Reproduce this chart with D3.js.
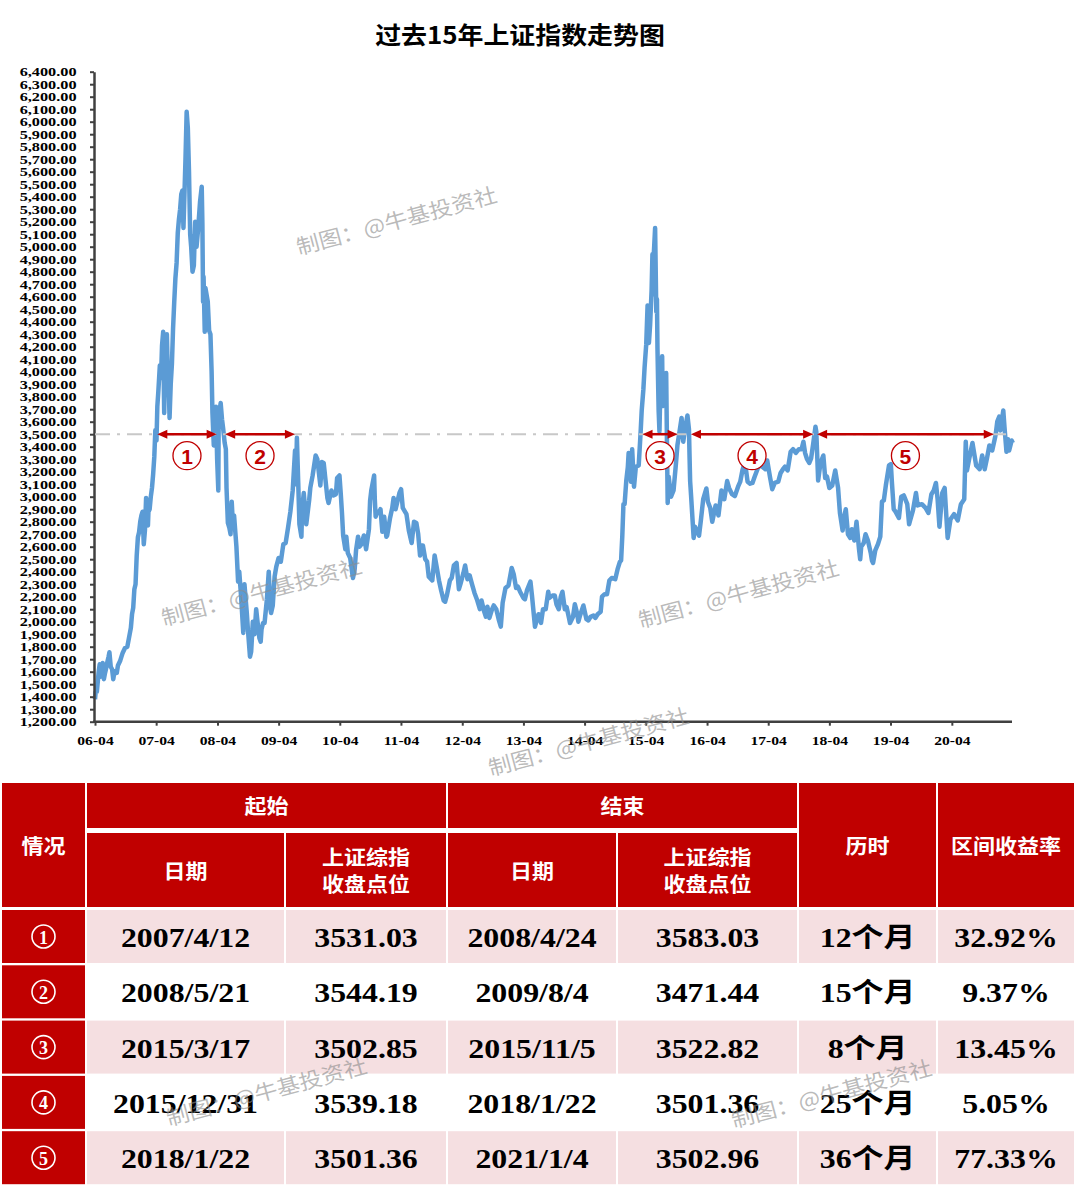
<!DOCTYPE html>
<html>
<head>
<meta charset="utf-8">
<script src="https://cdn.jsdelivr.net/npm/d3@7"></script>
<style>
  body { margin: 0; background: #fff; }
  svg { display: block; }
</style>
</head>
<body>
<div id="chart"></div>
<script>
// 上证综指 close (roughly every 1-2 weeks)
const close2006 = [["04-17",1380],["04-21",1440],["04-28",1440],["05-09",1600],["05-15",1660],["05-19",1560],["05-26",1600],["06-02",1670],["06-09",1540],["06-16",1590],["06-23",1630],["06-30",1680],["07-07",1720],["07-12",1755],["07-20",1640],["07-28",1620],["08-04",1540],["08-11",1600],["08-18",1605],["08-25",1590],["09-01",1650],["09-15",1690],["09-29",1750],["10-13",1790],["10-27",1800],["11-10",1900],["11-17",1950],["11-24",2060],["12-01",2110],["12-08",2260],["12-15",2300],["12-22",2530],["12-29",2675]];
const close2007 = [["01-05",2715],["01-12",2800],["01-19",2850],["01-26",2880],["02-02",2620],["02-09",2730],["02-16",2990],["02-27",2770],["03-02",2880],["03-09",2900],["03-16",3000],["03-23",3070],["03-30",3180],["04-06",3320],["04-12",3531],["04-19",3450],["04-24",3720],["04-30",3840],["05-09",4050],["05-16",3950],["05-22",4210],["05-29",4320],["06-01",3980],["06-04",3670],["06-08",4000],["06-15",4150],["06-20",4300],["06-26",3950],["07-02",3830],["07-06",3630],["07-13",3900],["07-20",4060],["07-27",4350],["08-03",4560],["08-10",4750],["08-17",4870],["08-24",5110],["08-31",5220],["09-07",5300],["09-14",5420],["09-21",5450],["09-27",5150],["10-09",5700],["10-16",6080],["10-23",5950],["10-30",5600],["11-06",5100],["11-12",5000],["11-20",4800],["11-28",4850],["12-06",5200],["12-14",5000],["12-24",5150]];
const close2008 = [["01-04",5360],["01-14",5480],["01-18",5180],["01-22",4560],["01-25",4760],["02-01",4320],["02-05",4670],["02-19",4560],["02-27",4330],["03-06",4300],["03-13",4000],["03-18",3670],["03-26",3410],["04-01",3470],["04-08",3720],["04-15",3300],["04-22",3050],["04-24",3583],["04-30",3690],["05-06",3750],["05-14",3620],["05-21",3544],["05-30",3430],["06-06",3380],["06-10",3070],["06-18",2790],["06-27",2750],["07-04",2700],["07-11",2960],["07-18",2780],["07-25",2850],["08-08",2600],["08-18",2320],["08-25",2400],["09-05",2200],["09-18",1910],["09-25",2300],["10-09",2070],["10-16",1930],["10-28",1720],["11-04",1760],["11-14",2000],["11-24",1900],["12-04",2100],["12-12",2000],["12-23",1870],["12-31",1840]];
const close2009 = [["01-05",1940],["01-14",1990],["01-23",1990],["02-06",2180],["02-17",2400],["02-27",2100],["03-03",2070],["03-13",2130],["03-24",2360],["04-03",2440],["04-17",2510],["04-30",2480],["05-15",2620],["05-29",2630],["06-12",2750],["06-26",2880],["07-10",3050],["07-24",3370],["07-29",3100],["08-04",3471],["08-12",3110],["08-19",2780],["08-31",2680],["09-04",2900],["09-14",3030],["09-29",2780],["10-16",2970],["10-23",3070],["11-06",3170],["11-24",3330],["12-04",3300],["12-22",3090],["12-31",3277]];
const close2010 = [["01-11",3270],["01-22",3130],["02-02",2990],["02-09",2950],["02-26",3050],["03-10",3010],["03-25",3020],["04-01",3150],["04-15",3170],["04-23",3020],["04-30",2870],["05-07",2690],["05-20",2580],["05-26",2680],["06-04",2550],["06-18",2510],["07-02",2370],["07-05",2350],["07-15",2420],["07-23",2570],["08-04",2680],["08-13",2600],["08-25",2620],["09-08",2690],["09-21",2580],["10-08",2740],["10-15",2970],["10-22",3050],["11-08",3170],["11-12",2980],["11-17",2840],["11-26",2880],["12-06",2870],["12-16",2900],["12-27",2720]];
const close2011 = [["01-07",2840],["01-20",2680],["01-25",2690],["02-11",2830],["02-24",2910],["03-04",2990],["03-16",2900],["03-25",2950],["04-08",3030],["04-18",3060],["04-28",2910],["05-11",2880],["05-20",2860],["06-03",2730],["06-20",2630],["07-04",2800],["07-18",2790],["07-29",2700],["08-09",2530],["08-15",2610],["08-26",2610],["09-09",2500],["09-20",2480],["09-30",2360],["10-21",2330],["11-04",2530],["11-16",2440],["11-30",2330],["12-13",2250],["12-28",2170]];
const close2012 = [["01-06",2160],["01-16",2210],["02-03",2330],["02-14",2350],["02-27",2450],["03-14",2470],["03-28",2260],["04-06",2300],["04-24",2390],["05-04",2450],["05-18",2340],["05-31",2370],["06-14",2300],["06-29",2230],["07-13",2180],["07-31",2100],["08-10",2170],["08-24",2090],["09-05",2040],["09-14",2120],["09-26",2030],["10-12",2100],["10-22",2130],["11-06",2100],["11-22",2010],["12-03",1960],["12-14",2150],["12-31",2270]];
const close2013 = [["01-18",2290],["02-06",2430],["02-18",2380],["03-04",2270],["03-15",2280],["03-28",2240],["04-17",2190],["04-26",2180],["05-08",2250],["05-29",2320],["06-07",2210],["06-25",1960],["07-05",2010],["07-16",2060],["07-31",1990],["08-12",2100],["08-28",2100],["09-12",2240],["09-18",2190],["10-08",2210],["10-21",2210],["10-31",2140],["11-14",2100],["11-26",2200],["12-06",2240],["12-20",2100],["12-31",2116]];
const close2014 = [["01-14",2030],["01-20",1990],["02-07",2040],["02-18",2140],["03-03",2070],["03-11",2000],["03-21",2050],["04-10",2130],["04-28",2020],["05-09",2010],["05-23",2040],["06-09",2050],["06-20",2030],["07-04",2060],["07-22",2080],["07-30",2200],["08-15",2220],["08-29",2220],["09-12",2330],["09-26",2350],["10-17",2340],["10-31",2420],["11-14",2480],["11-21",2490],["11-28",2680],["12-05",2940],["12-12",2940],["12-22",3130],["12-31",3235]];
const close2015 = [["01-05",3350],["01-19",3120],["01-26",3380],["02-06",3080],["02-17",3240],["03-06",3250],["03-17",3502],["03-24",3690],["04-03",3860],["04-10",4030],["04-20",4220],["04-28",4530],["05-06",4230],["05-13",4370],["05-22",4650],["05-27",4940],["05-28",4620],["06-03",4910],["06-12",5150],["06-19",4480],["06-23",4580],["06-26",4190],["07-03",3690],["07-08",3520],["07-14",3920],["07-24",4123],["07-27",3725],["08-07",3740],["08-17",3990],["08-21",3510],["08-26",2950],["09-01",3160],["09-15",3000],["09-30",3050],["10-14",3260],["10-23",3410],["11-05",3522],["11-17",3630],["11-27",3440],["12-07",3540],["12-22",3650],["12-31",3539]];
const close2016 = [["01-04",3296],["01-07",3125],["01-13",3000],["01-28",2670],["02-05",2760],["02-29",2688],["03-11",2810],["03-25",2980],["04-13",3066],["04-22",2960],["05-06",2910],["05-18",2800],["06-07",2930],["06-24",2850],["07-12",3050],["07-29",2980],["08-15",3125],["08-26",3070],["09-13",3020],["09-30",3005],["10-19",3080],["11-01",3120],["11-14",3210],["11-29",3280],["12-15",3120],["12-30",3104]];
const close2017 = [["01-13",3110],["01-26",3160],["02-23",3260],["03-13",3240],["03-31",3220],["04-11",3290],["04-28",3155],["05-11",3060],["05-26",3110],["06-16",3120],["06-30",3190],["07-14",3220],["07-26",3240],["08-11",3210],["08-29",3360],["09-12",3380],["09-29",3350],["10-17",3380],["11-02",3380],["11-13",3440],["11-23",3350],["12-05",3300],["12-18",3270],["12-29",3307]];
const close2018 = [["01-10",3420],["01-24",3560],["01-29",3520],["02-09",3130],["02-23",3270],["03-12",3330],["03-23",3150],["04-03",3160],["04-17",3070],["05-04",3090],["05-22",3210],["06-08",3070],["06-19",2870],["07-05",2730],["07-13",2830],["07-24",2900],["08-06",2700],["08-20",2670],["08-29",2740],["09-13",2650],["09-26",2800],["10-11",2580],["10-18",2500],["10-24",2600],["11-08",2630],["11-19",2700],["12-03",2650],["12-20",2550],["12-27",2490]];
const close2019 = [["01-03",2470],["01-16",2570],["02-01",2620],["02-15",2680],["02-25",2960],["03-08",2970],["03-20",3090],["04-08",3250],["04-19",3260],["04-25",3120],["05-06",2900],["05-17",2880],["06-06",2830],["06-20",3000],["07-05",3010],["07-26",2940],["08-06",2780],["08-12",2810],["08-29",2890],["09-16",3030],["09-26",2930],["10-21",2940],["11-12",2910],["11-29",2870],["12-17",3020],["12-31",3050]];
const close2020 = [["01-13",3110],["01-23",2980],["02-03",2760],["02-20",3030],["03-05",3070],["03-13",2890],["03-23",2670],["04-09",2820],["04-30",2860],["05-22",2810],["06-10",2940],["06-30",2980],["07-09",3440],["07-16",3210],["07-29",3300],["08-18",3430],["09-09",3250],["09-30",3220],["10-15",3330],["10-30",3220],["11-13",3310],["11-27",3410],["12-14",3370],["12-31",3473]];
const close2021 = [["01-04",3502],["01-13",3600],["01-25",3640],["02-01",3530],["02-18",3690],["02-25",3560],["03-09",3360],["03-18",3460],["03-25",3370],["04-09",3450],["04-16",3430]];

const yearBlocks = [[2006, close2006], [2007, close2007], [2008, close2008], [2009, close2009],
  [2010, close2010], [2011, close2011], [2012, close2012], [2013, close2013], [2014, close2014],
  [2015, close2015], [2016, close2016], [2017, close2017], [2018, close2018], [2019, close2019],
  [2020, close2020], [2021, close2021]];

// table
const periodNo = [1, 2, 3, 4, 5];
const startDates = ["2007/4/12", "2008/5/21", "2015/3/17", "2015/12/31", "2018/1/22"];
const startCloses = [3531.03, 3544.19, 3502.85, 3539.18, 3501.36];
const endDates = ["2008/4/24", "2009/8/4", "2015/11/5", "2018/1/22", "2021/1/4"];
const endCloses = [3583.03, 3471.44, 3522.82, 3501.36, 3502.96];
const monthsHeld = [12, 15, 8, 25, 36];
const periodReturns = [32.92, 9.37, 13.45, 5.05, 77.33];

const refLevel = 3500;
const yTicks = d3.range(1200, 6401, 100);
const xTickYears = d3.range(2006, 2021);

const W = 1080, H = 1190;
const RED = "#c00000", PINK = "#f5dfe1", BLUE = "#5b9bd5", AXIS = "#404040";
const SERIF = "'Liberation Serif','Noto Sans CJK SC',serif";
const CJK = "'Noto Sans CJK SC','Noto Sans',sans-serif";

const parseDay = d3.timeParse("%Y-%m-%d");
const parseSlash = d3.timeParse("%Y/%m/%d");

const series = yearBlocks.flatMap(([yr, rows]) =>
  rows.map(([md, v]) => ({ date: parseDay(yr + "-" + md), value: v })));

const svg = d3.select("#chart").append("svg")
  .attr("width", W).attr("height", H)
  .attr("viewBox", `0 0 ${W} ${H}`);

// stretched text helper (the reference is a bit wider than normal glyphs)
function stext(g, cx, cy, str, size, family, sx, fill) {
  return g.append("text")
    .attr("transform", `translate(${cx},${cy}) scale(${sx},1)`)
    .attr("text-anchor", "middle")
    .attr("dominant-baseline", "central")
    .attr("font-family", family)
    .attr("font-weight", "bold")
    .attr("font-size", size)
    .attr("fill", fill)
    .text(str);
}

// title
stext(svg, 520, 33, "过去15年上证指数走势图", 24, CJK, 1.08, "#000");

// scales
const x = d3.scaleTime()
  .domain([new Date(2006, 3, 17), new Date(2021, 3, 17)])
  .range([95, 1013]);
const y = d3.scaleLinear().domain([1200, 6400]).range([721.7, 71.7]);

// line
const line = d3.line().x(d => x(d.date)).y(d => y(d.value));
svg.append("path")
  .datum(series)
  .attr("d", line)
  .attr("fill", "none")
  .attr("stroke", BLUE)
  .attr("stroke-width", 4.5)
  .attr("stroke-linejoin", "round");

// axes
const yAxis = svg.append("g")
  .attr("transform", "translate(94,0)")
  .call(d3.axisLeft(y).tickValues(yTicks).tickFormat(d3.format(",.2f"))
    .tickSize(4).tickSizeOuter(0).tickPadding(10));
yAxis.select(".domain").attr("stroke", AXIS).attr("stroke-width", 2.5);
yAxis.selectAll(".tick line").attr("stroke", AXIS).attr("stroke-width", 2);
yAxis.selectAll(".tick text")
  .attr("font-family", SERIF).attr("font-weight", "bold").attr("font-size", 13)
  .attr("fill", "#000").attr("transform", "scale(1.25,1)");

const xAxis = svg.append("g")
  .attr("transform", `translate(0,${y(1200)})`)
  .call(d3.axisBottom(x).tickValues(xTickYears.map(yr => new Date(yr, 3, 17)))
    .tickFormat(d3.timeFormat("%y-%m")).tickSize(4).tickSizeOuter(0).tickPadding(10));
xAxis.select(".domain").attr("stroke", AXIS).attr("stroke-width", 2.5)
  .attr("d", `M93,0H1012`);
xAxis.selectAll(".tick line").attr("stroke", AXIS).attr("stroke-width", 2);
xAxis.selectAll(".tick text")
  .attr("font-family", SERIF).attr("font-weight", "bold").attr("font-size", 13)
  .attr("fill", "#000").attr("transform", "scale(1.2,1)");

// 3500 reference line
svg.append("line")
  .attr("x1", x.range()[0]).attr("x2", x.range()[1])
  .attr("y1", y(refLevel)).attr("y2", y(refLevel))
  .attr("stroke", "#c8c8c8").attr("stroke-width", 2)
  .attr("stroke-dasharray", "15,7,3,7");

// period arrows
const periods = periodNo.map((n, i) => ({
  n, x1: x(parseSlash(startDates[i])) + 2, x2: x(parseSlash(endDates[i])) - 2
}));
const ay = y(refLevel);
const head = 10, half = 4.5;
const arrows = svg.append("g").selectAll("g").data(periods).join("g");
arrows.append("line")
  .attr("x1", d => d.x1 + head - 1).attr("x2", d => d.x2 - head + 1)
  .attr("y1", ay).attr("y2", ay)
  .attr("stroke", RED).attr("stroke-width", 2.5);
arrows.append("path")
  .attr("d", d => `M${d.x1},${ay}L${d.x1 + head},${ay - half}L${d.x1 + head},${ay + half}Z` +
    `M${d.x2},${ay}L${d.x2 - head},${ay - half}L${d.x2 - head},${ay + half}Z`)
  .attr("fill", RED);
arrows.append("circle")
  .attr("cx", d => (d.x1 + d.x2) / 2).attr("cy", ay + 21.5).attr("r", 14)
  .attr("fill", "#fff").attr("stroke", RED).attr("stroke-width", 1.3);
arrows.append("text")
  .attr("x", d => (d.x1 + d.x2) / 2).attr("y", ay + 22.5)
  .attr("text-anchor", "middle").attr("dominant-baseline", "central")
  .attr("font-family", "'Liberation Sans',Arial,sans-serif").attr("font-weight", "bold")
  .attr("font-size", 21).attr("fill", RED)
  .text(d => d.n);

// ---- table ----
const colEdges = [2, 87, 286, 448, 618, 799, 938, 1076];
const table = svg.append("g");
function cell(c0, c1, y0, y1, fill) {
  table.append("rect")
    .attr("x", colEdges[c0]).attr("y", y0)
    .attr("width", colEdges[c1 + 1] - colEdges[c0] - 2).attr("height", y1 - y0)
    .attr("fill", fill);
  return [(colEdges[c0] + colEdges[c1 + 1] - 2) / 2, (y0 + y1) / 2];
}
const headers = [
  { c0: 0, c1: 0, y0: 783, y1: 907, lines: ["情况"] },
  { c0: 1, c1: 2, y0: 783, y1: 828, lines: ["起始"] },
  { c0: 3, c1: 4, y0: 783, y1: 828, lines: ["结束"] },
  { c0: 1, c1: 1, y0: 833, y1: 907, lines: ["日期"] },
  { c0: 2, c1: 2, y0: 833, y1: 907, lines: ["上证综指", "收盘点位"] },
  { c0: 3, c1: 3, y0: 833, y1: 907, lines: ["日期"] },
  { c0: 4, c1: 4, y0: 833, y1: 907, lines: ["上证综指", "收盘点位"] },
  { c0: 5, c1: 5, y0: 783, y1: 907, lines: ["历时"] },
  { c0: 6, c1: 6, y0: 783, y1: 907, lines: ["区间收益率"] }
];
headers.forEach(h => {
  const [cx, cy] = cell(h.c0, h.c1, h.y0, h.y1, RED);
  h.lines.forEach((t, k) => {
    const dy = h.lines.length === 1 ? 0 : (k === 0 ? -13.5 : 13.5);
    stext(table, cx, cy + dy, t, 20, CJK, 1.1, "#fff");
  });
});

const f2 = d3.format(".2f");
const rowTop = 910, rowStep = 55.3, rowH = 53;
periodNo.forEach((n, i) => {
  const y0 = rowTop + i * rowStep, y1 = y0 + rowH;
  const fill = i % 2 === 0 ? PINK : "#fff";
  const [c0x, cy] = cell(0, 0, y0, y1, RED);
  table.append("circle").attr("cx", c0x).attr("cy", cy).attr("r", 11.5)
    .attr("fill", "none").attr("stroke", "#fff").attr("stroke-width", 1.6);
  table.append("text").attr("x", c0x).attr("y", cy + 1)
    .attr("text-anchor", "middle").attr("dominant-baseline", "central")
    .attr("font-family", SERIF).attr("font-weight", "bold").attr("font-size", 18)
    .attr("fill", "#fff").text(n);
  const vals = [startDates[i], f2(startCloses[i]), endDates[i], f2(endCloses[i]),
    monthsHeld[i] + "个月", f2(periodReturns[i]) + "%"];
  vals.forEach((v, c) => {
    const [cx, cyy] = cell(c + 1, c + 1, y0, y1, fill);
    stext(table, cx, cyy + 1.5, v, 27, SERIF, 1.18, "#000");
  });
});

// watermarks
const markSpots = [[396, 219], [261, 590], [738, 592], [588, 740], [266, 1090], [831, 1092]];
svg.append("g").selectAll("text").data(markSpots).join("text")
  .attr("transform", d => `translate(${d[0]},${d[1]}) rotate(-15) scale(1.1,1)`)
  .attr("text-anchor", "middle").attr("dominant-baseline", "central")
  .attr("font-family", CJK).attr("font-size", 21)
  .attr("fill", "#8c8c8c").attr("fill-opacity", 0.6)
  .text("制图：@牛基投资社");
</script>
</body>
</html>
